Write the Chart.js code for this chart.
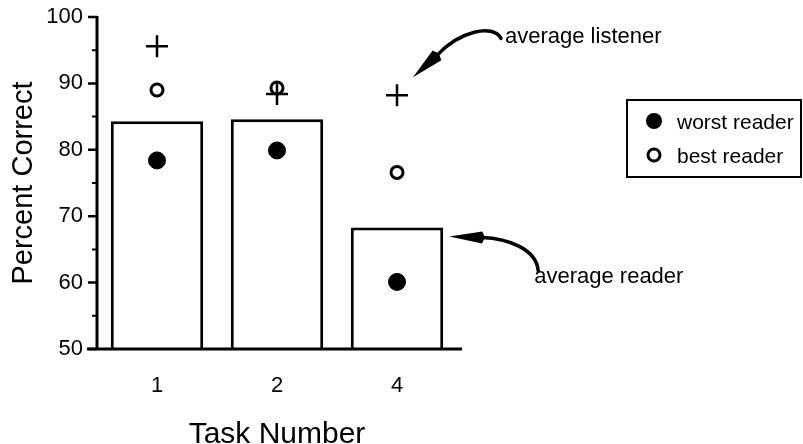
<!DOCTYPE html>
<html><head><meta charset="utf-8">
<script src="https://cdn.jsdelivr.net/npm/chart.js@4/dist/chart.umd.min.js"></script>
<style>html,body{margin:0;padding:0;background:#fff}#wrap{width:803px;height:444px}</style>
</head><body><div id="wrap"><canvas id="c" width="803" height="444"></canvas></div>
<script>
// ---- data ----
const categories = ['1', '2', '4'];
const averageReader = [84.3, 84.6, 68.3];
const averageListener = [95.6, 88.4, 88.2];
const bestReader = [89.0, 89.3, 76.6];
const worstReader = [78.4, 79.9, 60.1];
const yMajorTicks = [50, 60, 70, 80, 90, 100];
const yMinorTicks = [55, 65, 75, 85, 95];
const legendLabels = ['worst reader', 'best reader'];
const noteListener = 'average listener';
const noteReader = 'average reader';

const FONT = "'Liberation Sans', Arial, Helvetica, sans-serif";

function arrowHead(ctx, tip, base, halfW) {
  const dx = tip.x - base.x, dy = tip.y - base.y;
  const len = Math.hypot(dx, dy);
  const nx = -dy / len, ny = dx / len;
  ctx.beginPath();
  ctx.moveTo(tip.x, tip.y);
  ctx.lineTo(base.x + nx * halfW, base.y + ny * halfW);
  ctx.lineTo(base.x - dx * 0.08, base.y - dy * 0.08);
  ctx.lineTo(base.x - nx * halfW, base.y - ny * halfW);
  ctx.closePath();
  ctx.fill();
}

const decor = {
  id: 'decor',
  afterDraw(chart) {
    const ctx = chart.ctx;
    const xs = chart.scales.x, ys = chart.scales.y;
    const a = chart.chartArea;
    ctx.save();
    ctx.strokeStyle = '#000';
    ctx.fillStyle = '#000';
    ctx.lineCap = 'butt';
    // axes
    ctx.lineWidth = 3;
    ctx.beginPath();
    ctx.moveTo(a.left, ys.getPixelForValue(100) - 1);
    ctx.lineTo(a.left, a.bottom + 1.5);
    ctx.moveTo(a.left - 10, a.bottom);
    ctx.lineTo(a.right + 5, a.bottom);
    ctx.stroke();
    // major ticks
    ctx.lineWidth = 2.5;
    ctx.beginPath();
    yMajorTicks.forEach(v => {
      const y = ys.getPixelForValue(v);
      ctx.moveTo(a.left - 9, y);
      ctx.lineTo(a.left, y);
    });
    ctx.stroke();
    // minor ticks
    ctx.lineWidth = 2;
    ctx.beginPath();
    yMinorTicks.forEach(v => {
      const y = ys.getPixelForValue(v);
      ctx.moveTo(a.left - 5, y);
      ctx.lineTo(a.left, y);
    });
    ctx.stroke();

    // legend box
    const lx = 627, ly = 100, lw = 174, lh = 77;
    ctx.lineWidth = 2;
    ctx.strokeRect(lx, ly, lw, lh);
    ctx.beginPath();
    ctx.arc(lx + 27, ly + 21, 8, 0, Math.PI * 2);
    ctx.fill();
    ctx.lineWidth = 3;
    ctx.beginPath();
    ctx.arc(lx + 27, ly + 55, 6, 0, Math.PI * 2);
    ctx.stroke();
    ctx.font = '21px ' + FONT;
    ctx.textBaseline = 'alphabetic';
    ctx.textAlign = 'left';
    ctx.fillText(legendLabels[0], lx + 50, ly + 29);
    ctx.fillText(legendLabels[1], lx + 50, ly + 63);

    ctx.font = '22px ' + FONT;
    // annotation: average listener (anchored to task-4 listener point)
    const px = xs.getPixelForValue(2), py = ys.getPixelForValue(averageListener[2]);
    const tip1 = {x: px + 16, y: py - 18};
    const base1 = {x: px + 40, y: py - 40};
    ctx.lineWidth = 3.5;
    ctx.lineCap = 'round';
    ctx.beginPath();
    ctx.moveTo(px + 104, py - 57);
    ctx.bezierCurveTo(px + 96, py - 72, px + 62, py - 64, base1.x, base1.y);
    ctx.stroke();
    arrowHead(ctx, tip1, base1, 6.5);
    ctx.fillText(noteListener, px + 108, py - 52);

    // annotation: average reader (anchored to task-4 bar top right corner)
    const bar = chart.getDatasetMeta(0).data[2];
    const qx = bar.x + bar.width / 2, qy = bar.y;
    const tip2 = {x: qx + 6, y: qy + 9};
    const base2 = {x: qx + 39, y: qy + 10};
    ctx.beginPath();
    ctx.moveTo(base2.x, base2.y);
    ctx.bezierCurveTo(qx + 64, qy + 11, qx + 93, qy + 21, qx + 95, qy + 43);
    ctx.stroke();
    arrowHead(ctx, tip2, base2, 6);
    ctx.fillText(noteReader, qx + 91, qy + 56);
    ctx.restore();
  }
};

new Chart(document.getElementById('c'), {
  data: {
    labels: categories,
    datasets: [
      {
        type: 'bar', label: 'average reader', data: averageReader, order: 10,
        backgroundColor: '#fff', borderColor: '#000', borderWidth: 3, borderSkipped: 'start',
        barPercentage: 0.77, categoryPercentage: 1
      },
      {
        type: 'line', label: 'worst reader', data: worstReader, order: 3, showLine: false,
        pointStyle: 'circle', pointRadius: 8.5, pointBackgroundColor: '#000', pointBorderColor: '#000', pointBorderWidth: 1, clip: false
      },
      {
        type: 'line', label: 'best reader', data: bestReader, order: 2, showLine: false,
        pointStyle: 'circle', pointRadius: 6, pointBackgroundColor: '#fff', pointBorderColor: '#000', pointBorderWidth: 3, clip: false
      },
      {
        type: 'line', label: 'average listener', data: averageListener, order: 1, showLine: false,
        pointStyle: 'cross', pointRadius: 11, pointBorderColor: '#000', pointBorderWidth: 2.5, clip: false
      }
    ]
  },
  options: {
    responsive: false,
    animation: false,
    devicePixelRatio: 1,
    layout: {padding: {left: 0, right: 346, top: 17, bottom: 0}},
    plugins: {legend: {display: false}, tooltip: {enabled: false}},
    scales: {
      x: {
        type: 'category', offset: true,
        grid: {display: false, drawTicks: false}, border: {display: false},
        ticks: {padding: 24, color: '#000', font: {family: FONT, size: 22}},
        title: {display: true, text: 'Task Number', color: '#000', font: {family: FONT, size: 30, lineHeight: 0.63}, padding: {top: 0, bottom: 0}},
        afterFit(s) { s.height = 95; s.paddingLeft = 0; s.paddingRight = 0; }
      },
      y: {
        min: 50, max: 100,
        grid: {display: false, drawTicks: false}, border: {display: false},
        ticks: {stepSize: 10, padding: 14, color: '#000', font: {family: FONT, size: 22}},
        title: {display: true, text: 'Percent Correct', color: '#000', font: {family: FONT, size: 29, lineHeight: 1}, padding: {top: 9, bottom: 0}},
        afterFit(s) { s.width = 97; s.paddingTop = 0; s.paddingBottom = 0; }
      }
    }
  },
  plugins: [decor]
});
</script>
</body></html>
